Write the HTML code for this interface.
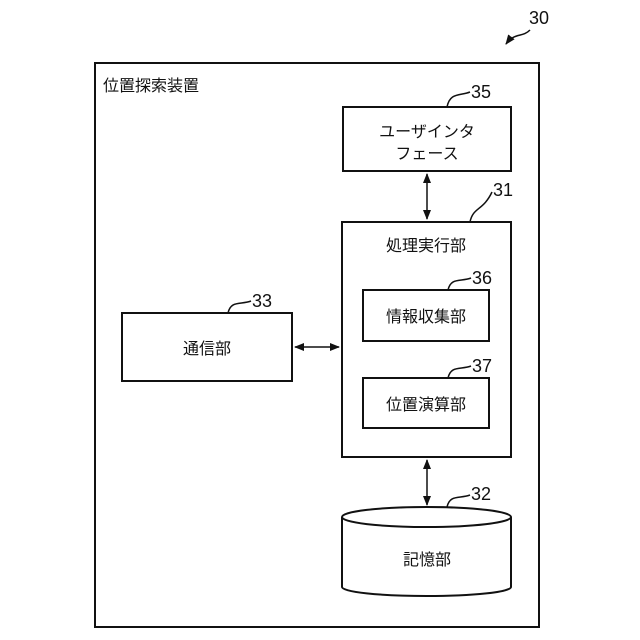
<!DOCTYPE html>
<html><head><meta charset="utf-8"><style>
html,body{margin:0;padding:0;background:#fff}
svg{display:block}
text{font-family:"Liberation Sans","Noto Sans CJK JP",sans-serif;fill:#111}
</style></head><body>
<svg width="640" height="640" viewBox="0 0 640 640" xmlns="http://www.w3.org/2000/svg">
<defs>
<marker id="a" markerWidth="10" markerHeight="10" refX="9" refY="5" orient="auto-start-reverse" markerUnits="userSpaceOnUse">
<path d="M0,1 L10,5 L0,9 Z" fill="#111"/></marker>
</defs>
<g fill="none" stroke="#111" stroke-width="2">
<rect x="95" y="63" width="444" height="564"/>
<rect x="343" y="107" width="168" height="64"/>
<rect x="342" y="222" width="169" height="235"/>
<rect x="363" y="290" width="126" height="51"/>
<rect x="363" y="378" width="126" height="50"/>
<rect x="122" y="313" width="170" height="68"/>
<path d="M342,517 L342,587 A84.5,9 0 0 0 511,587 L511,517"/>
<ellipse cx="426.5" cy="517" rx="84.5" ry="10"/>
</g>
<g stroke="#111" stroke-width="1.5" fill="none">
<line x1="427" y1="174" x2="427" y2="219" marker-start="url(#a)" marker-end="url(#a)"/>
<line x1="427" y1="460" x2="427" y2="505" marker-start="url(#a)" marker-end="url(#a)"/>
<line x1="295" y1="347" x2="339" y2="347" marker-start="url(#a)" marker-end="url(#a)"/>
<path d="M530,30 C522,38 515,32 506,44" marker-end="url(#a)"/>
<path d="M447,107 C450,92 460,96 470,92"/>
<path d="M470,222 C473,207 483,211 492,192"/>
<path d="M448,290 C451,277 461,282 471,278"/>
<path d="M448,378 C451,365 461,370 471,366"/>
<path d="M228,313 C231,300 241,305 251,301"/>
<path d="M447,507 C450,494 460,499 470,495"/>
</g>
<g font-size="16">
<text x="103" y="91">位置探索装置</text>
<text x="427" y="137" text-anchor="middle">ユーザインタ</text>
<text x="427" y="159" text-anchor="middle">フェース</text>
<text x="426" y="251" text-anchor="middle">処理実行部</text>
<text x="426" y="322" text-anchor="middle">情報収集部</text>
<text x="426" y="410" text-anchor="middle">位置演算部</text>
<text x="207" y="354" text-anchor="middle">通信部</text>
<text x="427" y="565" text-anchor="middle">記憶部</text>
</g>
<g font-size="18">
<text x="529" y="24">30</text>
<text x="471" y="98">35</text>
<text x="493" y="196">31</text>
<text x="472" y="284">36</text>
<text x="472" y="372">37</text>
<text x="252" y="307">33</text>
<text x="471" y="500">32</text>
</g>
</svg>
</body></html>
